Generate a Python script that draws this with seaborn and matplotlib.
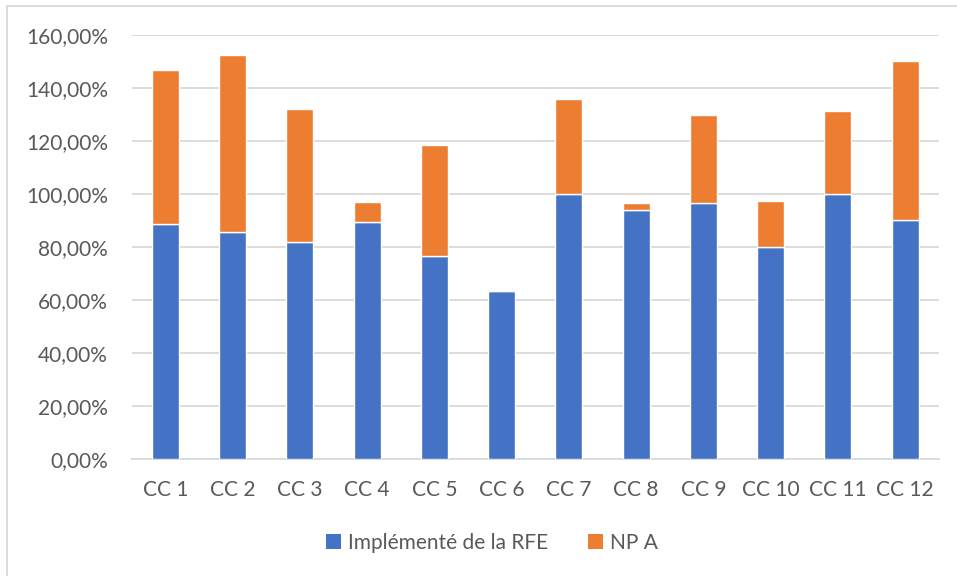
import matplotlib
matplotlib.use("Agg")
import matplotlib.pyplot as plt
import seaborn as sns
import pandas as pd
from matplotlib.patches import Patch
from matplotlib.lines import Line2D
from matplotlib.ticker import FuncFormatter, MultipleLocator

categories = ["CC 1", "CC 2", "CC 3", "CC 4", "CC 5", "CC 6",
              "CC 7", "CC 8", "CC 9", "CC 10", "CC 11", "CC 12"]
implemente = [88.7, 85.7, 81.9, 89.5, 76.4, 63.5, 100.0, 94.0, 96.7, 79.9, 100.0, 90.0]
np_a = [58.1, 66.7, 50.3, 7.5, 42.0, 0.0, 36.0, 2.7, 33.0, 17.4, 31.3, 60.2]
series_names = ["Implémenté de la RFE", "NP A"]
colors = ["#4472C4", "#ED7D31"]

sns.set_theme(style="white")
plt.rcParams['font.family'] = ['Lato', 'DejaVu Sans']
text_color = "#595959"
grid_color = "#D9D9D9"

df = pd.DataFrame({"cat": categories, "impl": implemente, "npa": np_a})

fig = plt.figure(figsize=(9.57, 5.76), dpi=100)
ax = fig.add_axes([131.7 / 957, (576 - 458.7) / 576, 807 / 957, 423.7 / 576])

sns.barplot(data=df, x="cat", y="impl", color=colors[0], width=0.4,
            saturation=1, ax=ax, zorder=3)
sns.barplot(data=df, x="cat", y="npa", color=colors[1], width=0.4,
            saturation=1, ax=ax, zorder=3, bottom=df["impl"].values)

ax.set_ylim(0, 160)
ax.set_xlim(-0.5, len(categories) - 0.5)
ax.yaxis.set_major_locator(MultipleLocator(20))
ax.yaxis.set_major_formatter(FuncFormatter(lambda v, p: f"{v:.2f}".replace(".", ",") + "%"))
ax.grid(axis="y", color=grid_color, linewidth=1.3, zorder=0)
ax.set_axisbelow(True)
for s in ["top", "right", "left"]:
    ax.spines[s].set_visible(False)
ax.spines["bottom"].set_color(grid_color)
ax.spines["bottom"].set_linewidth(1.3)
ax.set_xlabel("")
ax.set_ylabel("")
ax.tick_params(axis="both", length=0, colors=text_color, labelsize=15)
ax.tick_params(axis="x", pad=15)
ax.tick_params(axis="y", pad=17)

handles = [Patch(facecolor=colors[0], edgecolor="none"),
           Patch(facecolor=colors[1], edgecolor="none")]
leg = fig.legend(handles, series_names, loc="center", bbox_to_anchor=(492 / 957, 1 - 543 / 576),
                 ncol=2, frameon=False, fontsize=15, handlelength=0.7, handleheight=0.7,
                 handletextpad=0.35, columnspacing=1.9)
for t in leg.get_texts():
    t.set_color(text_color)

# chart area border (top and left visible)
fig.add_artist(Line2D([7.5 / 957, 7.5 / 957], [0, 1 - 5.7 / 576], transform=fig.transFigure,
                      color=grid_color, linewidth=1.3))
fig.add_artist(Line2D([7.5 / 957, 1], [1 - 5.7 / 576, 1 - 5.7 / 576], transform=fig.transFigure,
                      color=grid_color, linewidth=1.3))

fig.savefig("out.png", dpi=100)
